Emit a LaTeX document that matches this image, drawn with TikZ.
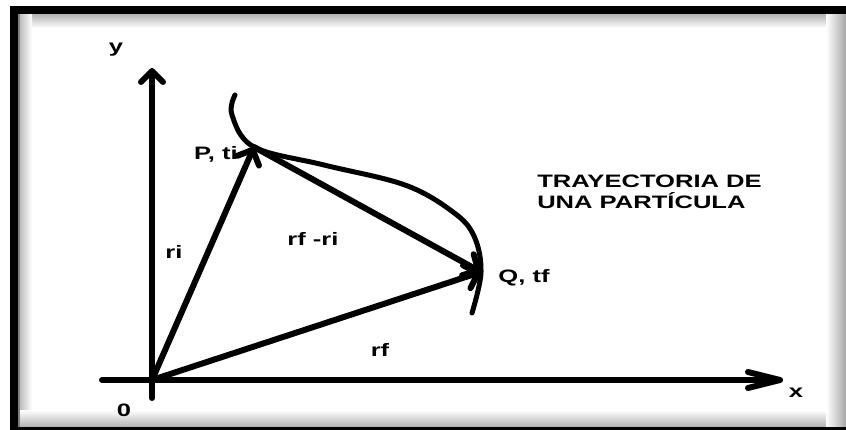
\documentclass[tikz,border=0pt]{standalone}
\usepackage{fontspec}
\setmainfont{Liberation Sans}
\usetikzlibrary{arrows.meta}
\begin{document}
\begin{tikzpicture}[x=1pt,y=-1pt,
  lbl/.style={font=\bfseries\fontsize{18}{21.5}\selectfont, xscale=1.42, inner sep=0pt, text=black},
  axis/.style={line width=6pt, line cap=round},
  vec/.style={line width=6pt, line cap=round, -{Straight Barb[length=12pt,width=24pt,round]}},
  traj/.style={line width=5pt, line cap=round}]
\useasboundingbox (0,0) rectangle (846,430);
\fill[white] (0,0) rectangle (846,430);
% frame shading
\shade[top color=black!30, bottom color=white] (18,14) rectangle (846,28);
\shade[left color=black!30, right color=white] (18,14) rectangle (32,427);
\shade[bottom color=black!30, top color=white] (18,410) rectangle (846,427);
\shade[left color=white, right color=black!35] (826,14) rectangle (846,427);
\fill[black!50] (18,14) rectangle (20,427);
\fill[black] (10,6) rectangle (846,14);
\fill[black] (10,6) rectangle (18,430);
\fill[black] (10,427) rectangle (846,430);
% points
\coordinate (O) at (152,380);
\coordinate (YL) at (152,398);
\coordinate (YT) at (152,68);
\coordinate (XL) at (102,380);
\coordinate (XT) at (783,380);
\coordinate (P) at (254,147);
\coordinate (Q) at (481,272);
% labels
\node[lbl] (ly) at (116,50) {y};
\node[lbl] (l0) at (124,410) {0};
\node[lbl] (lx) at (796,393) {x};
\node[lbl] (lri) at (174,252) {ri};
\node[lbl] (lrfri) at (313,239) {rf -ri};
\node[lbl] (lrf) at (380,350) {rf};
\node[lbl] (lP) at (216,154) {P, ti};
\node[lbl] (lQ) at (524,278) {Q, tf};
\node[lbl, anchor=west, align=left] (title) at (537,192) {TRAYECTORIA DE\\UNA PARTÍCULA};
% axes
\draw[axis, -{Straight Barb[length=11pt,width=22pt,round]}] (YL) -- (YT);
\draw[axis, -{Straight Barb[length=32pt,width=16pt,round]}] (XL) -- (XT);
% trajectory
\draw[traj] plot[smooth, tension=0.6] coordinates {(235,95) (232,115) (P) (324,165) (405,185) (453,212) (474,236) (Q) (472,313)};
% vectors
\draw[vec] (O) -- (P);
\draw[vec] (P) -- (Q);
\draw[vec] (O) -- (Q);
\end{tikzpicture}
\end{document}
